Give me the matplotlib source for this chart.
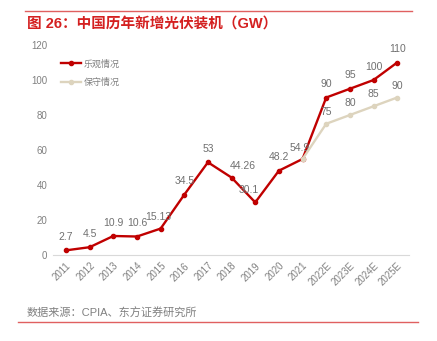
import matplotlib.pyplot as plt

plt.rcParams['font.family'] = ['Liberation Sans', 'Noto Sans CJK SC', 'DejaVu Sans']

years = ['2011', '2012', '2013', '2014', '2015', '2016', '2017', '2018', '2019', '2020',
         '2021', '2022E', '2023E', '2024E', '2025E']
optimistic = [2.7, 4.5, 10.9, 10.6, 15.13, 34.5, 53, 44.26, 30.1, 48.2, 54.9, 90, 95, 100, 110]
conservative = [54.9, 75, 80, 85, 90]
opt_labels = ['2.7', '4.5', '10.9', '10.6', '15.13', '34.5', '53', '44.26', '30.1', '48.2',
              '54.9', '90', '95', '100', '110']
con_labels = ['', '75', '80', '85', '90']

red = '#C00000'
beige = '#DDD4BE'
grey = '#808080'

fig = plt.figure(figsize=(4.37, 3.41), dpi=100)
ax = fig.add_axes([53/437, 0.252, 356/437, 0.616])

x = list(range(len(years)))
ax.plot(x, optimistic, '-o', color=red, lw=1.7, ms=3, label='乐观情况', zorder=3)
xc = x[10:]
ax.plot(xc, conservative, '-o', color=beige, lw=1.7, ms=3, label='保守情况', zorder=4)

# data labels (offsets in points)
offs = {7: (8, 5), 8: (-5, 5), 10: (-2, 4), 4: (-2, 5)}
for i, (v, s) in enumerate(zip(optimistic, opt_labels)):
    dx, dy = offs.get(i, (0, 6))
    ax.annotate(s, (i, v), xytext=(dx, dy), textcoords='offset points',
                ha='center', va='bottom', fontsize=7.5, color='#707070')
for i, (v, s) in zip(xc, zip(conservative, con_labels)):
    if s:
        ax.annotate(s, (i, v), xytext=(0, 5), textcoords='offset points',
                    ha='center', va='bottom', fontsize=7.5, color='#707070')

ax.set_ylim(0, 120)
ax.set_yticks(range(0, 121, 20))
ax.set_xlim(-0.55, 14.5)
ax.set_xticks(x)
ax.set_xticklabels(years, rotation=45, ha='right', rotation_mode='anchor')
ax.tick_params(length=0, labelsize=7, colors=grey, pad=4)
for s in ['top', 'right', 'left']:
    ax.spines[s].set_visible(False)
ax.spines['bottom'].set_color('#D9D9D9')

leg = ax.legend(loc='upper left', bbox_to_anchor=(0.0, 0.97), frameon=False,
                fontsize=6.5, handlelength=2.2, labelspacing=1.0, handletextpad=0.3)
for t in leg.get_texts():
    t.set_color(grey)

# header / footer
fig.add_artist(plt.Line2D([25/437, 412/437], [1 - 11/341, 1 - 11/341], color='#E06060', lw=1))
fig.text(27/437, 1 - 24/341, '图 26：中国历年新增光伏装机（GW）', color='#D42020',
         fontsize=10.5, fontweight='bold', va='center')
fig.text(27/437, 1 - 313/341, '数据来源：CPIA、东方证券研究所', color=grey, fontsize=8, va='center')
fig.add_artist(plt.Line2D([18/437, 418/437], [1 - 322/341, 1 - 322/341], color='#E06060', lw=1))

fig.savefig('out.png', dpi=100)
